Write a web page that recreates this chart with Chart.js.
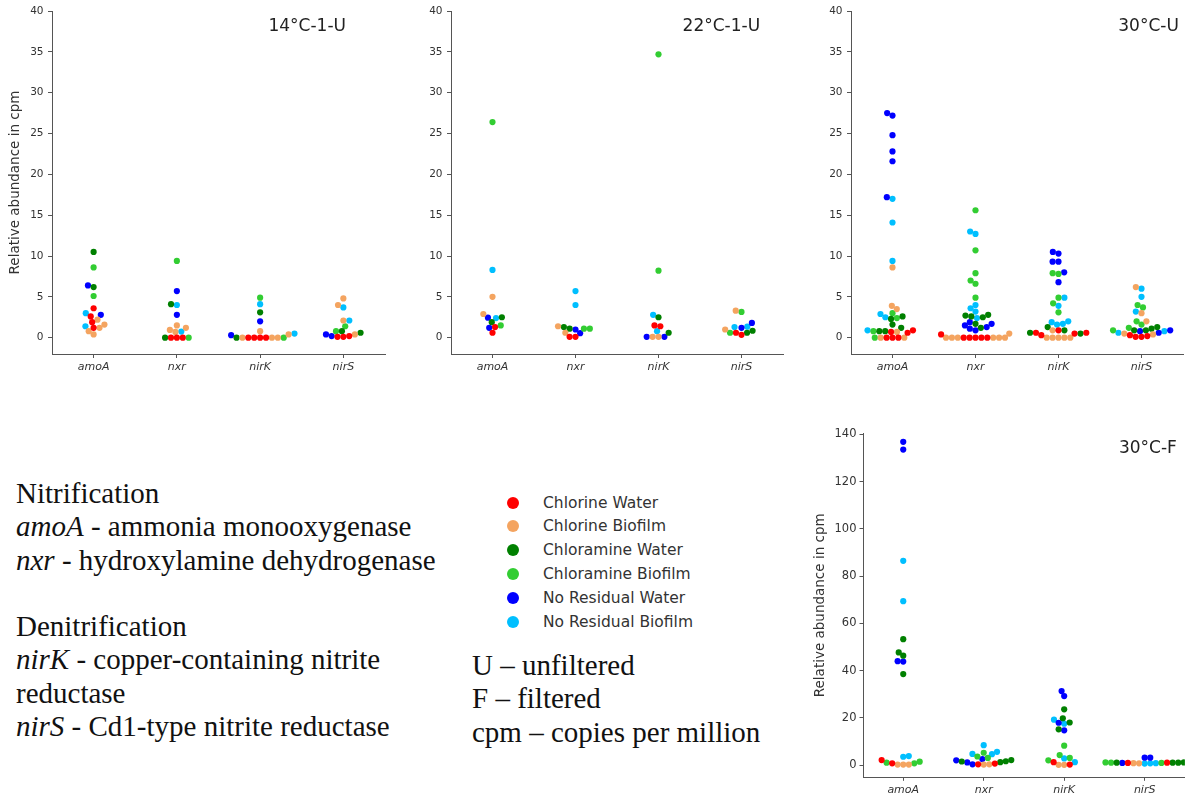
<!DOCTYPE html>
<html>
<head>
<meta charset="utf-8">
<title>Nitrogen cycle genes</title>
<script src="https://cdn.jsdelivr.net/npm/chart.js@4.4.1/dist/chart.umd.min.js"></script>
<style>
  body { margin: 0; background: #fff; width: 1188px; height: 801px; position: relative; overflow: hidden; }
  canvas { position: absolute; }
  .notes { position: absolute; font-family: 'Liberation Serif', serif; font-size: 29px; line-height: 33.3px; color: #111; white-space: pre; }
  .legend-row { position: absolute; height: 20px; font: 15.5px 'DejaVu Sans', sans-serif; color: #333; line-height: 20px; }
  .legend-row span.dot { position: absolute; left: 0; top: 4px; width: 12px; height: 12px; border-radius: 50%; }
  .legend-row span.lbl { position: absolute; left: 36px; white-space: nowrap; }
</style>
</head>
<body>

<canvas id="c14" width="390" height="385" style="left:0;top:0"></canvas>
<canvas id="c22" width="395" height="385" style="left:395px;top:0"></canvas>
<canvas id="c30u" width="393" height="385" style="left:795px;top:0"></canvas>
<canvas id="c30f" width="398" height="381" style="left:790px;top:420px"></canvas>

<div class="notes" style="left:16px;top:477px">Nitrification
<i>amoA</i> - ammonia monooxygenase
<i>nxr</i> - hydroxylamine dehydrogenase

Denitrification
<i>nirK</i> - copper-containing nitrite
reductase
<i>nirS</i> - Cd1-type nitrite reductase</div>

<div class="notes" style="left:472px;top:649px">U – unfiltered
F – filtered
cpm – copies per million</div>

<div id="legend"></div>

<script>
const genes = ['amoA', 'nxr', 'nirK', 'nirS'];
const groups = ['Chlorine Water', 'Chlorine Biofilm', 'Chloramine Water',
                'Chloramine Biofilm', 'No Residual Water', 'No Residual Biofilm'];
const groupColors = ['#ff0000', '#f4a460', '#008000', '#32cd32', '#0000ff', '#00bfff'];

const ticksU = [0, 5, 10, 15, 20, 25, 30, 35, 40];
const ticksF = [0, 20, 40, 60, 80, 100, 120, 140];

// one entry per group, each holding [amoA, nxr, nirK, nirS] values in cpm
const u14 = [
  [[3.6, 2.6, 1.9, 1.2], [0, 0, 0], [0, 0, 0, 0], [0.2, 0.1, 0.1]],
  [[2.2, 1.6, 1.2, 0.8, 0.4], [1.5, 1.2, 0.95, 0.7], [0.8, 0.4, 0, 0, 0], [4.8, 4.0, 2.1, 0.4]],
  [[10.5, 6.2], [4.1, 0], [3.1, 0], [0.8, 0.6]],
  [[8.6, 5.1], [9.4, 0], [4.9, 0], [1.4, 0.8]],
  [[6.4, 2.8], [5.7, 2.8], [2.0, 0.3], [0.4, 0.2]],
  [[3.0, 1.4], [4.0, 0.75], [4.1, 0.5], [3.7, 2.1]]
];

const u22 = [
  [[1.3, 0.6], [0.1, 0.1], [1.5, 1.4], [0.6, 0.35]],
  [[5.0, 2.9], [1.4, 0.6], [0.1, 0.1], [3.3, 1.0]],
  [[2.5, 1.9], [1.3, 1.1], [2.5, 0.6], [0.85, 0.6]],
  [[26.4, 1.5], [1.1, 1.1], [34.7, 8.2], [3.15, 0.6]],
  [[2.45, 1.2], [1.0, 0.55], [0.1, 0.1], [1.8, 1.2]],
  [[8.3, 2.4], [5.7, 4.0], [2.8, 0.8], [1.35, 1.3]]
];

const u30 = [
  [[0.9, 0.7, 0.6, 0, 0, 0], [0.4, 0, 0, 0, 0, 0], [0.9, 0.6, 0.6, 0.5, 0.3], [0.3, 0.2, 0.1, 0.1]],
  [[8.6, 3.9, 3.5, 0.7, 0, 0], [0.5, 0, 0, 0, 0, 0, 0], [0.9, 0, 0, 0, 0, 0], [6.2, 3.0, 2.0, 0.5, 0.4]],
  [[2.6, 2.3, 1.6, 1.2, 0.8, 0.8], [2.8, 2.7, 2.6, 2.5, 1.7, 1.2], [1.3, 0.9, 0.6, 0.5], [1.3, 1.1, 0.9, 0.9]],
  [[3.0, 2.4, 0.8, 0], [15.6, 10.7, 7.9, 7.0, 6.6, 4.9], [7.9, 7.8, 4.9, 4.2, 3.1], [4.0, 3.7, 2.0, 1.6, 1.2, 0.9]],
  [[27.5, 27.2, 24.8, 22.8, 21.6, 17.2], [1.9, 1.7, 1.5, 1.3, 1.1, 0.9], [10.5, 10.3, 9.3, 9.3, 8.0, 6.8], [0.9, 0.8, 0.6]],
  [[17.0, 14.1, 9.4, 2.9, 2.5, 0.9], [13.0, 12.7, 4.0, 3.6, 3.2, 2.4], [4.9, 3.9, 2.0, 1.9, 1.7, 1.6], [6.0, 5.0, 3.2, 0.8, 0.6]]
];

const f30 = [
  [[2.1, 0.7], [0.6, 0.3], [1.2, 0.2], [1.0, 0.9]],
  [[0.2, 0.2, 0.2], [0.3, 0.2], [0.1, 0.1], [0.8, 0.7]],
  [[53.3, 47.7, 46.3, 38.5], [2.1, 1.6, 1.5, 1.2], [23.6, 19.8, 18.0, 15.1], [1.2, 1.1, 1.0, 1.0, 1.0]],
  [[1.4, 1.0, 0.7], [5.2, 3.6, 3.0], [8.2, 4.2, 3.0, 2.0], [1.1, 1.0, 0.9]],
  [[136.9, 133.6, 44.0, 43.8], [2.5, 2.0, 1.1, 0.3], [31.3, 29.2, 17.9, 14.7], [3.1, 3.1, 0.9]],
  [[86.5, 69.4, 3.8, 3.5], [8.4, 5.6, 4.7, 4.6], [19.2, 17.5, 2.8, 1.2], [0.8, 0.7, 0.6]]
];

Chart.defaults.font.family = "'DejaVu Sans', sans-serif";
Chart.defaults.color = '#333';

// label written inside the plot, top right
const panelTag = {
  id: 'panelTag',
  afterDraw(chart, args, opts) {
    const { ctx, chartArea } = chart;
    ctx.save();
    ctx.font = "17px 'DejaVu Sans'";
    ctx.fillStyle = '#222';
    ctx.textBaseline = 'middle';
    ctx.fillText(opts.text, chart.scales.x.getPixelForValue(opts.at), chartArea.top + 15.5);
    ctx.restore();
  }
};

// beeswarm: place points (sorted by value) as close to the centre line as
// possible without overlapping, d = dot spacing in pixels
function swarmOffsets(vals, pys, d) {
  const order = vals.map((v, i) => i).sort((a, b) => vals[a] - vals[b] || a - b);
  const placed = [];
  const out = new Array(vals.length);
  order.forEach(i => {
    const py = pys[i];
    const near = placed.filter(p => Math.abs(p.py - py) < d);
    const cands = [0];
    let leftFirst = true;
    near.forEach(p => {
      const dx = Math.sqrt(d * d - (p.py - py) ** 2);
      if (leftFirst) cands.push(p.ox - dx, p.ox + dx);
      else cands.push(p.ox + dx, p.ox - dx);
      leftFirst = !leftFirst;
    });
    const sorted = cands.map((c, k) => [c, k])
      .sort((a, b) => (Math.abs(a[0]) - Math.abs(b[0])) || (a[1] - b[1]))
      .map(a => a[0]);
    const ok = sorted.find(c => near.every(p => (c - p.ox) ** 2 + (p.py - py) ** 2 >= d * d - 0.01));
    out[i] = ok;
    placed.push({ ox: ok, py });
  });
  return out;
}

function drawPanel(cfg) {
  const datasets = groups.map((g, k) => ({
    label: g,
    data: [],
    backgroundColor: groupColors[k],
    borderWidth: 0,
    pointRadius: 3.1,
    pointHoverRadius: 3.1
  }));
  cfg.data.forEach((grp, k) => grp.forEach((vals, gi) => vals.forEach(v => datasets[k].data.push({ x: gi, y: v }))));

  const chart = new Chart(document.getElementById(cfg.id), {
    type: 'scatter',
    data: { datasets },
    plugins: [panelTag],
    options: {
      responsive: false,
      animation: false,
      layout: { padding: { top: cfg.padTop, right: cfg.padRight, left: 0, bottom: 0 } },
      plugins: {
        legend: { display: false },
        tooltip: { enabled: false },
        panelTag: { text: cfg.tag, at: cfg.tagAt }
      },
      scales: {
        x: {
          type: 'linear', min: -0.5, max: 3.5,
          afterBuildTicks: s => { s.ticks = genes.map((g, i) => ({ value: i })); },
          afterFit: s => { s.height = cfg.xH; },
          ticks: {
            callback: v => genes[v],
            autoSkip: false, maxRotation: 0, padding: 3,
            font: { size: 11, style: 'italic' }, color: '#333'
          },
          grid: { drawOnChartArea: false, drawTicks: true, tickLength: cfg.tickLen, color: '#555' },
          border: { color: '#555', width: 1 }
        },
        y: {
          min: cfg.yMin, max: cfg.yMax,
          afterBuildTicks: s => { s.ticks = cfg.yTicks.map(v => ({ value: v })); },
          afterFit: s => { s.width = cfg.yW; },
          ticks: { padding: cfg.tickPad, font: { size: cfg.yFont }, color: '#333' },
          grid: { drawOnChartArea: false, drawTicks: true, tickLength: cfg.tickLen, color: '#555' },
          border: { color: '#555', width: 1 },
          title: {
            display: cfg.yTitle,
            text: 'Relative abundance in cpm',
            font: { size: 13.5 }, color: '#333',
            padding: { top: cfg.titlePad, bottom: 0 }
          }
        }
      }
    }
  });

  // second pass: spread each gene column into a swarm using the real pixel scales
  const xs = chart.scales.x, ys = chart.scales.y;
  const unit = xs.getPixelForValue(1) - xs.getPixelForValue(0);
  const newData = groups.map(() => []);
  genes.forEach((g, gi) => {
    const pts = [];
    cfg.data.forEach((grp, k) => grp[gi].forEach(v => pts.push({ k, v })));
    const offs = swarmOffsets(pts.map(p => p.v), pts.map(p => ys.getPixelForValue(p.v)), cfg.dot);
    pts.forEach((p, n) => newData[p.k].push({ x: gi + offs[n] / unit, y: p.v }));
  });
  chart.data.datasets.forEach((ds, k) => { ds.data = newData[k]; });
  chart.update('none');
  return chart;
}

drawPanel({ id: 'c14', data: u14, tag: '14°C-1-U', tagAt: 2.1, yMin: -2, yMax: 40, yTicks: ticksU,
  padTop: 11, padRight: 5, yW: 52, xH: 31, tickLen: 4, tickPad: 4.5, yFont: 10.5, yTitle: true, titlePad: 6.9, dot: 5.9 });
drawPanel({ id: 'c22', data: u22, tag: '22°C-1-U', tagAt: 2.29, yMin: -2, yMax: 40, yTicks: ticksU,
  padTop: 11, padRight: 7, yW: 56, xH: 31, tickLen: 4, tickPad: 4.5, yFont: 10.5, yTitle: false, titlePad: 0, dot: 5.9 });
drawPanel({ id: 'c30u', data: u30, tag: '30°C-U', tagAt: 2.72, yMin: -2, yMax: 40, yTicks: ticksU,
  padTop: 11, padRight: 5, yW: 56, xH: 31, tickLen: 4, tickPad: 4.5, yFont: 10.5, yTitle: false, titlePad: 0, dot: 5.9 });
drawPanel({ id: 'c30f', data: f30, tag: '30°C-F', tagAt: 2.68, yMin: -5.2, yMax: 140.5, yTicks: ticksF,
  padTop: 13.3, padRight: 0, yW: 73, xH: 23.7, tickLen: 3.5, tickPad: 3, yFont: 11.5, yTitle: true, titlePad: 21.9, dot: 5.6 });

// legend built from the same group names and colours
const legend = document.getElementById('legend');
groups.forEach((g, k) => {
  const row = document.createElement('div');
  row.className = 'legend-row';
  row.style.left = '507px';
  row.style.top = (502.5 + k * 23.9 - 10) + 'px';
  row.innerHTML = '<span class="dot" style="background:' + groupColors[k] + '"></span><span class="lbl">' + g + '</span>';
  legend.appendChild(row);
});
</script>
</body>
</html>
